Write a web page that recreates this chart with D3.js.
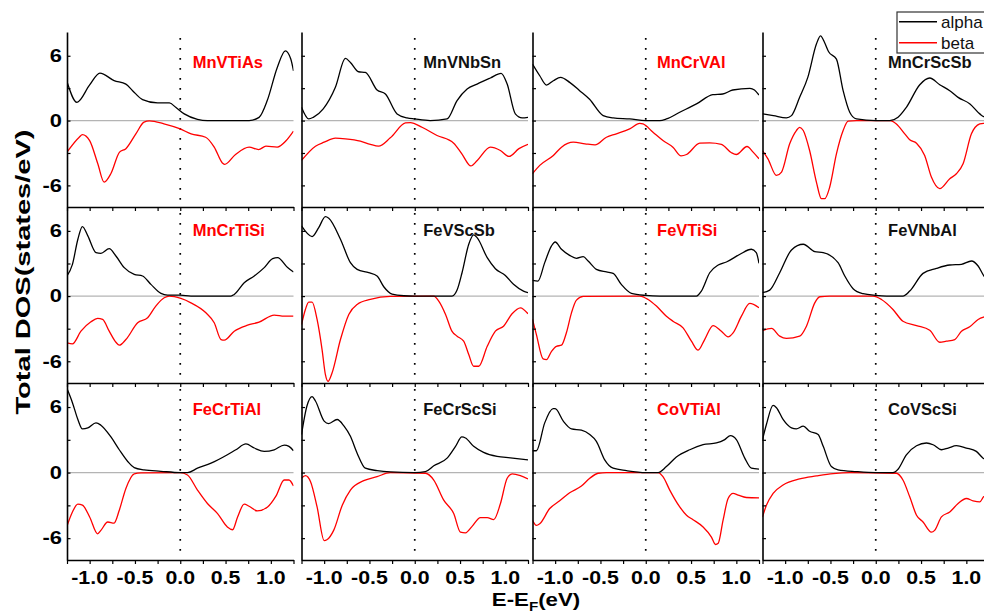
<!DOCTYPE html>
<html><head><meta charset="utf-8">
<script src="https://cdn.jsdelivr.net/npm/d3@7"></script>
<style>body{margin:0;background:#fff}svg{display:block}</style>
</head><body>
<svg id="chart" width="984" height="613"></svg>
<script>
// ---------- data ----------
const compounds = ["MnVTiAs","MnVNbSn","MnCrVAl","MnCrScSb","MnCrTiSi","FeVScSb","FeVTiSi","FeVNbAl","FeCrTiAl","FeCrScSi","CoVTiAl","CoVScSi"];
const labelColors = ["#ff0000","#111111","#ff0000","#111111","#ff0000","#111111","#ff0000","#111111","#ff0000","#111111","#ff0000","#111111"];
const seriesNames = ["alpha","beta"];
const xTickValues = [-1.0,-0.5,0.0,0.5,1.0];
const xTickLabels = ["-1.0","-0.5","0.0","0.5","1.0"];
const xMinorTicks = [-1.25,-1.0,-0.75,-0.5,-0.25,0,0.25,0.5,0.75,1.0,1.25];
const yTickValues = [6,0,-6];
const yTickLabels = ["6","0","-6"];
const yMinorTicks = [6,3,0,-3,-6];

const alphaMnVTiAs = [[-1.25,3.6],[-1.14,1.69],[-1.0,3.3],[-0.887,4.4],[-0.73,3.7],[-0.6,3.38],[-0.526,2.77],[-0.416,1.94],[-0.25,1.63],[-0.12,1.63],[-0.05,1.23],[0.044,0.62],[0.19,0.12],[0.3,0],[0.76,0],[0.87,0.3],[0.96,1.85],[1.07,4.9],[1.16,6.46],[1.22,5.7],[1.25,4.6]];
const betaMnVTiAs = [[-1.25,-2.92],[-1.115,-1.54],[-1.08,-1.3],[-1.0,-1.85],[-0.91,-4.0],[-0.84,-5.7],[-0.765,-4.9],[-0.67,-2.92],[-0.6,-2.6],[-0.49,-1.23],[-0.4,-0.15],[-0.34,-0.03],[-0.18,-0.3],[0,-0.77],[0.12,-1.23],[0.28,-1.54],[0.375,-2.46],[0.467,-3.94],[0.49,-4.06],[0.61,-3.14],[0.76,-2.46],[0.865,-2.68],[0.946,-2.37],[1.07,-2.46],[1.17,-1.85],[1.25,-0.98]];
const alphaMnVNbSn = [[-1.25,1.23],[-1.17,0.15],[-1.12,0.3],[-1.01,1.08],[-0.876,3.08],[-0.765,5.75],[-0.71,5.38],[-0.62,4.52],[-0.545,4.46],[-0.416,2.83],[-0.324,2.46],[-0.195,0.62],[-0.085,0.25],[0,0.15],[0.17,0],[0.357,0.15],[0.467,1.85],[0.578,2.92],[0.688,3.38],[0.835,3.94],[0.953,4.37],[1.02,3.38],[1.11,0.62],[1.185,0.25],[1.25,0.3]];
const betaMnVNbSn = [[-1.25,-3.69],[-1.096,-2.37],[-1.0,-2.0],[-0.876,-1.63],[-0.765,-1.69],[-0.6,-1.9],[-0.49,-2.2],[-0.4,-2.37],[-0.27,-1.6],[-0.103,-0.22],[-0.048,-0.18],[0.08,-0.62],[0.246,-1.38],[0.43,-2.09],[0.52,-3.08],[0.62,-4.2],[0.69,-3.69],[0.835,-2.46],[0.945,-2.77],[1.04,-3.32],[1.15,-2.6],[1.25,-2.2]];
const alphaMnCrVAl = [[-1.25,5.23],[-1.17,4.15],[-1.096,3.29],[-1.02,3.69],[-0.94,4.0],[-0.84,3.54],[-0.73,2.77],[-0.62,1.97],[-0.47,0.46],[-0.36,0.25],[-0.177,0.15],[0,0],[0.155,0],[0.228,0.15],[0.375,0.77],[0.56,1.54],[0.74,2.4],[0.85,2.46],[0.96,2.83],[1.15,2.98],[1.2,2.83],[1.25,2.37]];
const betaMnCrVAl = [[-1.25,-4.92],[-1.17,-4.15],[-1.02,-3.23],[-0.93,-2.46],[-0.8,-2.0],[-0.67,-2.15],[-0.56,-2.25],[-0.434,-1.54],[-0.324,-1.23],[-0.177,-0.77],[-0.066,-0.25],[-0.03,-0.31],[0.08,-1.08],[0.19,-1.85],[0.3,-2.46],[0.39,-3.26],[0.45,-3.14],[0.596,-2.09],[0.706,-2.06],[0.835,-2.2],[0.946,-2.98],[1.0,-3.14],[1.118,-2.4],[1.185,-2.92],[1.25,-3.54]];
const alphaMnCrScSb = [[-1.25,0.62],[-1.13,0.46],[-0.986,0.25],[-0.93,0.46],[-0.84,2.15],[-0.75,4.0],[-0.655,7.08],[-0.61,7.85],[-0.565,7.23],[-0.52,6.37],[-0.434,5.69],[-0.36,2.77],[-0.287,0.77],[-0.213,0.15],[0,0],[0.155,0],[0.246,0.31],[0.338,1.23],[0.486,3.32],[0.596,3.94],[0.706,3.32],[0.817,2.77],[0.909,2.15],[1.04,1.54],[1.148,0.62],[1.19,0.37],[1.25,0.3]];
const betaMnCrScSb = [[-1.25,-2.77],[-1.19,-3.54],[-1.096,-5.08],[-1.04,-4.77],[-0.95,-2.15],[-0.876,-0.92],[-0.84,-0.62],[-0.8,-0.92],[-0.73,-2.77],[-0.655,-5.69],[-0.6,-7.23],[-0.563,-7.23],[-0.508,-6.15],[-0.434,-3.08],[-0.36,-0.92],[-0.305,-0.06],[-0.213,0],[0.155,0],[0.228,-0.31],[0.32,-1.23],[0.375,-1.78],[0.45,-2.09],[0.54,-3.23],[0.614,-5.23],[0.706,-6.3],[0.817,-5.38],[0.89,-4.92],[0.964,-4.0],[1.056,-1.23],[1.148,-0.31],[1.19,-0.25],[1.25,-0.25]];
const alphaMnCrTiSi = [[-1.25,1.85],[-1.19,2.92],[-1.13,5.23],[-1.08,6.4],[-1.02,5.54],[-0.93,4.0],[-0.876,3.94],[-0.784,4.37],[-0.71,3.69],[-0.618,2.62],[-0.508,2.0],[-0.416,1.85],[-0.324,1.08],[-0.213,0.25],[-0.14,0.09],[0,0.09],[0.118,0],[0.56,0],[0.596,0.15],[0.706,1.23],[0.817,1.85],[0.927,2.62],[1.02,3.45],[1.074,3.54],[1.185,2.62],[1.25,2.22]];
const betaMnCrTiSi = [[-1.25,-4.31],[-1.19,-4.4],[-1.096,-3.23],[-0.986,-2.37],[-0.912,-2.06],[-0.857,-2.15],[-0.784,-3.23],[-0.71,-4.25],[-0.673,-4.52],[-0.6,-4.0],[-0.47,-2.46],[-0.36,-2.0],[-0.27,-0.92],[-0.177,-0.15],[-0.12,0],[0.007,-0.22],[0.118,-0.62],[0.283,-1.54],[0.375,-2.46],[0.45,-4.0],[0.486,-4.06],[0.596,-3.23],[0.743,-2.68],[0.87,-2.4],[1.037,-1.75],[1.148,-1.85],[1.25,-1.85]];
const alphaFeVScSb = [[-1.25,6.46],[-1.133,5.48],[-1.06,6.3],[-0.986,7.32],[-0.949,7.17],[-0.82,5.23],[-0.71,3.08],[-0.636,2.46],[-0.508,2.15],[-0.416,1.85],[-0.342,0.86],[-0.25,0.18],[-0.12,0.03],[0,0],[0.412,0],[0.467,0.55],[0.522,2.15],[0.596,4.77],[0.65,5.63],[0.688,5.38],[0.8,3.54],[0.89,2.52],[1.0,1.9],[1.09,1.08],[1.2,0.46],[1.25,0.31]];
const betaFeVScSb = [[-1.25,-2.62],[-1.207,-1.23],[-1.17,-0.55],[-1.133,-0.55],[-1.078,-2.15],[-1.023,-4.92],[-0.986,-7.23],[-0.957,-7.85],[-0.913,-7.08],[-0.82,-4.0],[-0.728,-1.69],[-0.636,-0.77],[-0.49,-0.31],[-0.27,-0.03],[0.21,0],[0.265,-0.46],[0.34,-1.69],[0.41,-3.23],[0.467,-3.69],[0.54,-4.15],[0.596,-5.38],[0.65,-6.46],[0.706,-6.46],[0.8,-4.62],[0.89,-3.23],[0.98,-2.77],[1.074,-1.63],[1.166,-1.08],[1.25,-1.63]];
const alphaFeVTiSi = [[-1.25,1.45],[-1.19,1.38],[-1.115,3.08],[-1.04,4.62],[-1.0,4.98],[-0.93,4.31],[-0.84,3.75],[-0.765,3.48],[-0.69,3.63],[-0.636,3.23],[-0.545,2.46],[-0.434,2.22],[-0.36,2.09],[-0.27,1.08],[-0.158,0.25],[0,0.06],[0.155,0],[0.56,0],[0.614,0.46],[0.706,2.15],[0.8,2.86],[0.89,3.14],[1.04,3.85],[1.166,4.31],[1.22,4.0],[1.25,3.02]];
const betaFeVTiSi = [[-1.25,-2.15],[-1.207,-3.54],[-1.133,-5.78],[-1.096,-5.85],[-1.04,-5.08],[-0.986,-4.62],[-0.93,-4.52],[-0.876,-3.38],[-0.82,-1.54],[-0.765,-0.37],[-0.69,-0.03],[-0.066,0],[0.026,-0.31],[0.118,-0.92],[0.228,-1.85],[0.3,-2.31],[0.412,-2.92],[0.504,-4.15],[0.578,-4.98],[0.65,-4.0],[0.743,-2.71],[0.835,-3.23],[0.909,-3.75],[0.964,-3.38],[1.056,-1.85],[1.148,-0.68],[1.25,-1.08]];
const alphaFeVNbAl = [[-1.25,0.31],[-1.17,0.55],[-1.06,2.15],[-0.93,4.25],[-0.8,4.77],[-0.673,4.09],[-0.58,4.0],[-0.416,3.08],[-0.342,1.85],[-0.25,0.68],[-0.14,0.22],[0,0.06],[0.118,0],[0.3,0],[0.375,0.46],[0.522,2.09],[0.67,2.55],[0.817,2.86],[0.946,2.92],[1.056,3.23],[1.13,2.77],[1.19,1.9],[1.25,1.3]];
const betaFeVNbAl = [[-1.25,-3.17],[-1.15,-2.98],[-1.06,-3.69],[-0.986,-3.9],[-0.84,-3.69],[-0.765,-2.77],[-0.673,-0.62],[-0.618,-0.06],[-0.508,0],[-0.03,0],[0.063,-0.31],[0.19,-1.23],[0.3,-2.31],[0.45,-2.71],[0.596,-3.14],[0.706,-4.25],[0.78,-4.15],[0.872,-4.0],[0.946,-3.23],[1.037,-2.83],[1.13,-2.15],[1.19,-1.94],[1.25,-1.85]];
const alphaFeCrTiAl = [[-1.25,7.69],[-1.19,6.4],[-1.13,4.86],[-1.08,4.0],[-1.02,4.09],[-0.93,4.55],[-0.876,4.34],[-0.765,3.26],[-0.673,2.09],[-0.58,1.02],[-0.508,0.46],[-0.4,0.25],[-0.213,0.12],[0,0],[0.08,0],[0.19,0.4],[0.34,0.86],[0.52,1.63],[0.614,2.09],[0.725,2.62],[0.817,2.25],[0.927,1.94],[1.037,2.09],[1.148,2.52],[1.2,2.4],[1.25,2.0]];
const betaFeCrTiAl = [[-1.25,-4.89],[-1.19,-3.6],[-1.13,-2.89],[-1.08,-2.98],[-1.0,-4.06],[-0.912,-5.6],[-0.876,-5.29],[-0.8,-4.52],[-0.73,-4.62],[-0.673,-3.45],[-0.6,-1.45],[-0.508,-0.12],[-0.434,-0.03],[0,0],[0.08,-0.22],[0.19,-1.6],[0.3,-2.83],[0.412,-3.75],[0.52,-4.98],[0.578,-5.23],[0.633,-4.06],[0.706,-2.89],[0.76,-3.08],[0.85,-3.51],[0.964,-3.14],[1.056,-2.15],[1.148,-0.68],[1.2,-0.68],[1.25,-1.23]];
const alphaFeCrScSi = [[-1.25,3.48],[-1.19,6.09],[-1.133,6.95],[-1.096,6.55],[-1.0,4.71],[-0.95,4.49],[-0.857,4.86],[-0.78,4.25],[-0.71,3.32],[-0.636,1.78],[-0.545,0.4],[-0.416,0.18],[-0.27,0.06],[0,0],[0.118,0.09],[0.21,0.62],[0.357,1.32],[0.45,2.4],[0.52,3.26],[0.56,3.17],[0.65,2.4],[0.76,1.85],[0.909,1.48],[1.056,1.35],[1.25,1.17]];
const betaFeCrScSi = [[-1.25,-0.52],[-1.207,-0.28],[-1.15,-0.83],[-1.078,-3.14],[-1.0,-6.22],[-0.97,-6.15],[-0.895,-5.29],[-0.8,-2.98],[-0.71,-1.6],[-0.563,-0.74],[-0.416,-0.37],[-0.27,0],[0.118,-0.06],[0.21,-0.68],[0.32,-2.52],[0.43,-3.75],[0.504,-5.45],[0.56,-5.51],[0.633,-4.92],[0.725,-4.12],[0.8,-4.12],[0.872,-4.31],[0.946,-2.83],[1.02,-0.52],[1.074,-0.12],[1.166,-0.28],[1.25,-0.58]];
const alphaCoVTiAl = [[-1.25,2.0],[-1.207,2.0],[-1.115,4.55],[-1.023,5.85],[-1.0,5.85],[-0.91,4.71],[-0.82,4.0],[-0.71,3.88],[-0.618,3.48],[-0.545,2.86],[-0.453,1.17],[-0.36,0.4],[-0.213,0.18],[0,0],[0.136,0],[0.228,0.55],[0.338,1.42],[0.486,2.09],[0.633,2.55],[0.78,2.71],[0.872,3.02],[0.935,3.38],[1.0,3.02],[1.093,1.32],[1.166,0.4],[1.25,0.31]];
const betaCoVTiAl = [[-1.25,-4.37],[-1.207,-4.83],[-1.17,-4.68],[-1.06,-3.29],[-0.95,-2.58],[-0.84,-1.85],[-0.71,-1.23],[-0.618,-0.52],[-0.526,-0.06],[-0.434,0],[0.136,0],[0.19,-0.37],[0.265,-1.6],[0.375,-3.14],[0.45,-3.9],[0.522,-4.31],[0.633,-4.98],[0.725,-5.9],[0.77,-6.58],[0.8,-6.46],[0.853,-4.37],[0.909,-2.37],[0.964,-1.9],[1.02,-2.06],[1.11,-2.28],[1.25,-2.31]];
const alphaCoVScSi = [[-1.25,3.02],[-1.207,4.4],[-1.133,6.15],[-1.096,5.94],[-1.023,4.86],[-0.93,4.09],[-0.876,4.0],[-0.8,4.25],[-0.73,3.78],[-0.636,3.48],[-0.58,2.4],[-0.49,0.55],[-0.416,0.25],[-0.213,0.09],[0,0],[0.19,0],[0.246,0.31],[0.338,1.63],[0.45,2.46],[0.56,2.71],[0.633,2.55],[0.725,2.09],[0.8,2.25],[0.89,2.46],[1.0,2.25],[1.11,1.94],[1.185,1.32],[1.25,1.1]];
const betaCoVScSi = [[-1.25,-4.06],[-1.207,-2.98],[-1.133,-1.9],[-1.023,-1.14],[-0.84,-0.58],[-0.655,-0.31],[-0.47,-0.09],[-0.287,0],[0.228,-0.06],[0.3,-0.68],[0.375,-2.22],[0.45,-3.9],[0.522,-4.52],[0.614,-5.45],[0.65,-5.29],[0.725,-4.06],[0.817,-3.6],[0.909,-2.83],[1.0,-2.37],[1.074,-2.58],[1.148,-2.68],[1.19,-2.22],[1.25,-2.0]];

const alphaSeries = [alphaMnVTiAs,alphaMnVNbSn,alphaMnCrVAl,alphaMnCrScSb,alphaMnCrTiSi,alphaFeVScSb,alphaFeVTiSi,alphaFeVNbAl,alphaFeCrTiAl,alphaFeCrScSi,alphaCoVTiAl,alphaCoVScSi];
const betaSeries = [betaMnVTiAs,betaMnVNbSn,betaMnCrVAl,betaMnCrScSb,betaMnCrTiSi,betaFeVScSb,betaFeVTiSi,betaFeVNbAl,betaFeCrTiAl,betaFeCrScSi,betaCoVTiAl,betaCoVScSi];

// ---------- layout ----------
const FONT = "'Liberation Sans', Arial, Helvetica, sans-serif";
const colLeft = [67, 301.5, 532.5, 762.5];
const panelW = 226.5;
const rowTop = [32, 207, 383];
const rowBot = [207, 383, 560];
const labelDx = [12.5, 8.5, 11.3, 12.3];
const labelBase = [68, 236, 415];
const seriesColors = {alpha: "#000000", beta: "#ff0000"};

const svg = d3.select("#chart");
const defs = svg.append("defs");

compounds.forEach((name, i) => {
  const r = Math.floor(i / 4), c = i % 4;
  const x = d3.scaleLinear().domain([-1.25, 1.25]).range([colLeft[c], colLeft[c] + panelW]);
  const y = d3.scaleLinear().domain([-8, 8.2]).range([rowBot[r], rowTop[r]]);
  const g = svg.append("g");

  defs.append("clipPath").attr("id", "clip" + i).append("rect")
    .attr("x", x(-1.25)).attr("y", rowTop[r]).attr("width", panelW).attr("height", rowBot[r] - rowTop[r]);

  g.append("line").attr("x1", x(-1.25)).attr("x2", x(1.25)).attr("y1", y(0)).attr("y2", y(0))
    .attr("stroke", "#b4b4b4").attr("stroke-width", 1.2);
  g.append("line").attr("x1", x(0)).attr("x2", x(0)).attr("y1", rowTop[r] + 6).attr("y2", rowBot[r] - 7)
    .attr("stroke", "#000").attr("stroke-width", 1.7).attr("stroke-dasharray", "1.7,8.3");

  const line = d3.line().x(d => x(d[0])).y(d => y(d[1])).curve(d3.curveMonotoneX);
  const lg = g.append("g").attr("clip-path", `url(#clip${i})`);
  lg.append("path").datum(betaSeries[i]).attr("d", line).attr("fill", "none")
    .attr("stroke", seriesColors.beta).attr("stroke-width", 1.3);
  lg.append("path").datum(alphaSeries[i]).attr("d", line).attr("fill", "none")
    .attr("stroke", seriesColors.alpha).attr("stroke-width", 1.3);

  const ax = g.append("g").attr("transform", `translate(${x(-1.25)},0)`)
    .call(d3.axisRight(y).tickValues(yMinorTicks).tickSize(3.5).tickSizeOuter(0).tickFormat(""));
  const bx = g.append("g").attr("transform", `translate(0,${rowBot[r]})`)
    .call(d3.axisBottom(x).tickValues(xMinorTicks).tickSize(4).tickSizeOuter(0).tickFormat(""));
  [ax, bx].forEach(a => {
    a.select(".domain").attr("stroke", "#000").attr("stroke-width", 1.6);
    a.selectAll(".tick line").attr("stroke", "#000").attr("stroke-width", 1.2);
  });

  g.append("text").attr("x", x(0) + labelDx[c]).attr("y", labelBase[r])
    .attr("font-family", FONT).attr("font-weight", "bold").attr("font-size", 16.5)
    .attr("fill", labelColors[i]).text(name);

  if (c === 0) {
    g.selectAll(".ylab").data(yTickValues).join("text")
      .attr("transform", d => `translate(62,${y(d) + 6.3}) scale(1.25,1)`)
      .attr("text-anchor", "end").attr("font-family", FONT).attr("font-weight", "bold")
      .attr("font-size", 17.5).attr("fill", "#000")
      .text((d, k) => yTickLabels[k]);
  }
  if (r === 2) {
    g.selectAll(".xlab").data(xTickValues).join("text")
      .attr("transform", d => `translate(${x(d)},583.5) scale(1.22,1)`)
      .attr("text-anchor", "middle").attr("font-family", FONT).attr("font-weight", "bold")
      .attr("font-size", 17.5).attr("fill", "#000")
      .text((d, k) => xTickLabels[k]);
  }
});

svg.append("text").attr("transform", "translate(30,272) rotate(-90)")
  .attr("text-anchor", "middle").attr("font-family", FONT).attr("font-weight", "bold")
  .attr("font-size", 21).attr("textLength", 285).attr("lengthAdjust", "spacingAndGlyphs")
  .text("Total DOS(states/eV)");

const xt = svg.append("text").attr("transform", "translate(536,606) scale(1.17,1)")
  .attr("text-anchor", "middle").attr("font-family", FONT).attr("font-weight", "bold").attr("font-size", 19);
xt.append("tspan").text("E-E");
xt.append("tspan").attr("font-size", 13).attr("dy", 5).text("F");
xt.append("tspan").attr("dy", -5).text("(eV)");

const leg = svg.append("g");
leg.append("rect").attr("x", 897).attr("y", 12).attr("width", 100).attr("height", 41)
  .attr("fill", "#fff").attr("stroke", "#333").attr("stroke-width", 1.2);
seriesNames.forEach((s, k) => {
  const yy = 21.7 + k * 21;
  leg.append("line").attr("x1", 899).attr("x2", 937).attr("y1", yy).attr("y2", yy)
    .attr("stroke", seriesColors[s]).attr("stroke-width", 1.4);
  leg.append("text").attr("x", 941).attr("y", yy + 6.3).attr("font-family", FONT)
    .attr("font-size", 17).attr("fill", "#111").text(s);
});
</script>
</body></html>
